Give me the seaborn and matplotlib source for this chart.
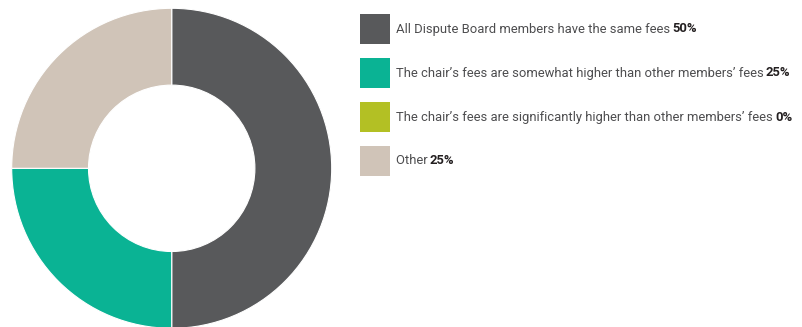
import matplotlib
matplotlib.use("Agg")
import matplotlib.pyplot as plt
from matplotlib.patches import Rectangle
import seaborn as sns

# data
labels = [
    "All Dispute Board members have the same fees",
    "The chair\u2019s fees are somewhat higher than other members\u2019 fees",
    "The chair\u2019s fees are significantly higher than other members\u2019 fees",
    "Other",
]
shares = [50, 25, 0, 25]
colors = ["#58595b", "#0ab394", "#b3c024", "#d0c4b8"]

sns.set_style("white")
plt.rcParams['font.family'] = ['Roboto', 'DejaVu Sans']

W, H = 803, 327
fig = plt.figure(figsize=(W / 100, H / 100), dpi=100)

# donut: centre (172, 168) px from top, outer radius 160 px
cx, cy, r = 171.7, H - 168.3, 160
ax = fig.add_axes([(cx - r) / W, (cy - r) / H, 2 * r / W, 2 * r / H])
ax.pie(shares, colors=sns.color_palette(colors), startangle=90, counterclock=False,
       radius=1, wedgeprops=dict(width=0.48, edgecolor="white", linewidth=0.8))
ax.set_xlim(-1, 1)
ax.set_ylim(-1, 1)
ax.set_aspect("equal")
ax.axis("off")

# legend drawn by hand (mixed regular / bold text)
fig.canvas.draw()
renderer = fig.canvas.get_renderer()
x0, y0, size, step = 360, 14, 30, 44
for i, (lab, val, col) in enumerate(zip(labels, shares, colors)):
    top = y0 + i * step
    fig.patches.append(Rectangle((x0 / W, 1 - (top + size) / H), size / W, size / H,
                                 transform=fig.transFigure, facecolor=col, edgecolor="none"))
    ymid = 1 - (top + size / 2) / H
    t = fig.text(396 / W, ymid, lab + " ", fontsize=9.35, color="#4d4d4f", va="center")
    bb = t.get_window_extent(renderer)
    fig.text((bb.x1 - 1) / W, ymid, f"{val}%", fontsize=9.35, color="#231f20",
             fontweight="bold", va="center")

fig.savefig("out.png", dpi=100)
